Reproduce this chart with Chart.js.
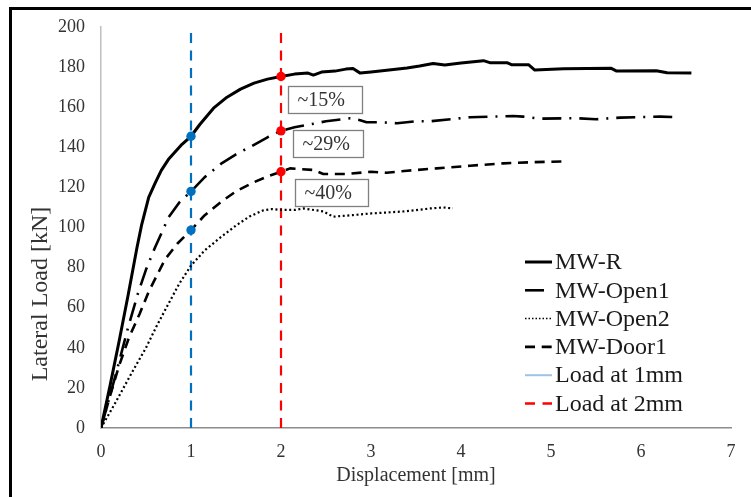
<!DOCTYPE html>
<html>
<head>
<meta charset="utf-8">
<title>Lateral load vs displacement</title>
<script src="https://cdn.jsdelivr.net/npm/chart.js@4/dist/chart.umd.min.js"></script>
<style>
  html, body { margin: 0; padding: 0; background: #fff; }
  #wrap { width: 751px; height: 497px; }
</style>
</head>
<body>
<div id="wrap"><canvas id="chartCarga" width="751" height="497"></canvas></div>
<script>
// curvas carga-desplazamiento (mm, kN)
const dispR  = [0,0.1,0.2,0.3,0.4,0.45,0.53,0.6,0.67,0.75,0.82,0.9,1.0,1.1,1.25,1.4,1.55,1.7,1.85,2.0,2.15,2.3,2.36,2.45,2.6,2.72,2.8,2.88,3.0,3.2,3.4,3.54,3.69,3.82,4.0,4.25,4.32,4.51,4.56,4.75,4.82,5.14,5.67,5.73,6.17,6.29,6.56];
const cargaR = [0,21,43,66,90,101,115,122,128.5,134,137.5,141.5,145.5,151.5,159.5,165,169,172,174,175.3,176.5,177,176,177.5,178,179,179.3,177,177.5,178.5,179.5,180.5,181.8,181,182,183.2,182.2,182.2,181.2,181.2,178.5,179.2,179.4,178,178.2,177.2,177];

const dispOpen1  = [0,0.16,0.3,0.41,0.5,0.6,0.75,0.87,1.0,1.15,1.34,1.5,1.67,1.85,2.0,2.15,2.3,2.5,2.77,2.88,2.95,3.1,3.29,3.5,3.66,4.1,4.58,4.69,4.88,5.29,5.5,5.77,6.21,6.43];
const cargaOpen1 = [0,26,50,67,79,90,105,112.5,118,125,132,136.5,140.5,145,148.2,150,151.2,153,154.5,153.5,152.5,152.5,152,153,153,155,155.6,155.3,154.3,154.5,154,154.8,155.3,155];

const dispOpen2  = [0,0.14,0.36,0.5,0.62,0.75,0.87,1.0,1.15,1.34,1.5,1.65,1.8,1.9,2.0,2.16,2.25,2.4,2.47,2.58,2.8,3.0,3.36,3.66,3.8,3.91];
const cargaOpen2 = [0,11,29,40,51,62,72,81,88.5,95.5,101,105.5,108.5,109.2,108.8,108.8,109.5,108.5,108,105.4,106.2,107,108,109.5,110,109.5];

const dispDoor1  = [0,0.1,0.2,0.31,0.43,0.53,0.62,0.71,0.85,1.0,1.15,1.34,1.5,1.67,1.85,2.0,2.1,2.36,2.47,2.73,3.0,3.17,3.4,3.73,4.1,4.47,4.8,5.16];
const cargaDoor1 = [0,16,31,45,57,68,76,84,92,98.7,106,113,118,122,125.5,127.8,129.5,128.7,126.7,126.7,127.8,127.3,128.3,129.5,130.8,132,132.6,133];

// cargas leidas a 1 mm y 2 mm (R, Open1, Door1)
const carga1mm = [145.5, 118, 98.7];
const carga2mm = [175.3, 148.2, 127.8];
const reduccion = ['~15%', '~29%', '~40%'];

const ticksX = [0,1,2,3,4,5,6,7];
const ticksY = [0,20,40,60,80,100,120,140,160,180,200];

const FUENTE = 'Liberation Serif, Times New Roman, serif';

function puntos(xs, ys) {
    return xs.map((x, i) => ({ x: x, y: ys[i] }));
}

function curva(label, xs, ys, dash, ancho) {
    return {
        label: label,
        data: puntos(xs, ys),
        showLine: true,
        borderColor: '#000',
        borderWidth: ancho,
        borderDash: dash,
        borderCapStyle: 'butt',
        borderJoinStyle: 'round',
        pointRadius: 0,
        tension: 0,
        order: 1
    };
}

function lineaVertical(label, x, color, legendColor) {
    return {
        label: label,
        data: puntos([x, x], [ticksY[0], ticksY[ticksY.length - 1]]),
        showLine: true,
        borderColor: color,
        legendColor: legendColor,
        borderWidth: 2.2,
        borderDash: [10, 7.5],
        borderCapStyle: 'butt',
        pointRadius: 0,
        order: 2
    };
}

function marcas(x, ys, color) {
    return {
        data: puntos(ys.map(() => x), ys),
        showLine: false,
        pointRadius: 4.7,
        pointBackgroundColor: color,
        pointBorderWidth: 0,
        sinLeyenda: true,
        order: 0
    };
}

// leyenda dibujada dentro del area del grafico
const leyendaPlugin = {
    id: 'leyendaInterna',
    afterDraw(chart) {
        const ctx = chart.ctx;
        const items = chart.data.datasets.filter(d => !d.sinLeyenda);
        ctx.save();
        ctx.font = '24px ' + FUENTE;
        ctx.textBaseline = 'middle';
        ctx.textAlign = 'left';
        items.forEach((d, i) => {
            const y = 262 + i * 28.3;
            ctx.beginPath();
            ctx.strokeStyle = d.legendColor || d.borderColor;
            ctx.lineWidth = d.legendWidth || d.borderWidth;
            ctx.setLineDash(d.legendDash || d.borderDash || []);
            ctx.lineCap = 'butt';
            ctx.moveTo(525, y);
            ctx.lineTo(552, y);
            ctx.stroke();
            ctx.setLineDash([]);
            ctx.fillStyle = '#1a1a1a';
            ctx.fillText(d.label, 555, y + 1);
        });
        ctx.restore();
    }
};

// cajas con el porcentaje de reduccion, titulo del eje Y y marco
const anotacionesPlugin = {
    id: 'anotaciones',
    afterDraw(chart) {
        const ctx = chart.ctx;
        const sx = chart.scales.x, sy = chart.scales.y;
        const anclas = [[2.074, 170.6, 74], [2.13, 148.4, 70], [2.16, 124.1, 73]];
        ctx.save();
        ctx.font = '20px ' + FUENTE;
        ctx.textBaseline = 'middle';
        ctx.textAlign = 'left';
        reduccion.forEach((t, i) => {
            const px = Math.round(sx.getPixelForValue(anclas[i][0])) + 0.5;
            const py = Math.round(sy.getPixelForValue(anclas[i][1])) + 0.5;
            const w = anclas[i][2], h = 27;
            ctx.fillStyle = '#fff';
            ctx.fillRect(px, py, w, h);
            ctx.strokeStyle = '#7f7f7f';
            ctx.lineWidth = 1.3;
            ctx.strokeRect(px, py, w, h);
            ctx.fillStyle = '#333';
            ctx.fillText(t, px + 9, py + h / 2 + 1);
        });

        // titulo del eje Y
        ctx.save();
        ctx.translate(41, 294);
        ctx.rotate(-Math.PI / 2);
        ctx.font = '24px ' + FUENTE;
        ctx.textAlign = 'center';
        ctx.fillStyle = '#333';
        ctx.fillText('Lateral Load [kN]', 0, 0);
        ctx.restore();

        // marco exterior
        ctx.fillStyle = '#000';
        ctx.fillRect(9, 7, 751, 3);
        ctx.fillRect(9, 7, 3, 497);
        ctx.restore();
    }
};

const datasets = [
    curva('MW-R', dispR, cargaR, [], 3),
    curva('MW-Open1', dispOpen1, cargaOpen1, [19, 8, 2, 8], 2.6),
    curva('MW-Open2', dispOpen2, cargaOpen2, [2, 2.6], 2.2),
    curva('MW-Door1', dispDoor1, cargaDoor1, [10, 6.7], 2.6),
    lineaVertical('Load at 1mm', ticksX[1], '#0070C0', '#9DC3E6'),
    lineaVertical('Load at 2mm', ticksX[2], '#FF0000', '#FF0000'),
    marcas(ticksX[1], carga1mm, '#0070C0'),
    marcas(ticksX[2], carga2mm, '#FF0000')
];
datasets[2].legendWidth = 1.5;
datasets[2].legendDash = [1.5, 2];
datasets[4].legendDash = [];
datasets[4].legendWidth = 2;
datasets[5].legendWidth = 2.6;

const ctx = document.getElementById('chartCarga').getContext('2d');
new Chart(ctx, {
    type: 'scatter',
    data: { datasets: datasets },
    options: {
        responsive: false,
        animation: false,
        events: [],
        layout: { padding: { top: 27, right: 20, bottom: 0, left: 0 } },
        plugins: {
            legend: { display: false },
            tooltip: { enabled: false }
        },
        scales: {
            x: {
                type: 'linear',
                min: ticksX[0],
                max: ticksX[ticksX.length - 1],
                afterFit: s => { s.height = 69; },
                afterBuildTicks: s => { s.ticks = ticksX.map(v => ({ value: v })); },
                grid: { display: false, drawTicks: false },
                border: { display: true, color: '#8c8c8c', width: 1.5 },
                ticks: { padding: 13, color: '#333', font: { family: FUENTE, size: 18 } },
                title: {
                    display: true,
                    text: 'Displacement [mm]',
                    color: '#333',
                    font: { family: FUENTE, size: 20 },
                    padding: { top: 0, bottom: 9 }
                }
            },
            y: {
                type: 'linear',
                min: ticksY[0],
                max: ticksY[ticksY.length - 1],
                afterFit: s => { s.width = 101; },
                afterBuildTicks: s => { s.ticks = ticksY.map(v => ({ value: v })); },
                grid: { display: false, drawTicks: false },
                border: { display: true, color: '#bfbfbf', width: 1.5 },
                ticks: { padding: 16, color: '#333', font: { family: FUENTE, size: 18 } }
            }
        }
    },
    plugins: [leyendaPlugin, anotacionesPlugin]
});
</script>
</body>
</html>
